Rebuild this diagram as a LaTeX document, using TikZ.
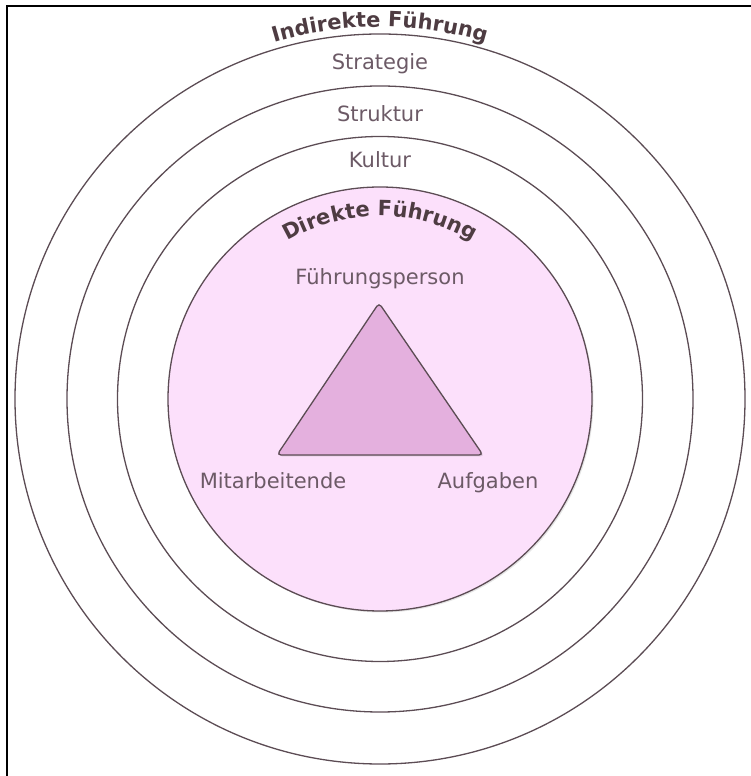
\documentclass[tikz,border=0pt]{standalone}
\usepackage{fontspec}
\setmainfont{DejaVu Sans}
\usetikzlibrary{decorations.text,shadows}
\definecolor{ringline}{RGB}{92,76,84}
\definecolor{innerfill}{RGB}{252,224,251}
\definecolor{trifill}{RGB}{228,176,222}
\definecolor{titletext}{RGB}{78,60,66}
\definecolor{labeltext}{RGB}{108,90,102}
\newcommand{\titlefont}{\bfseries\fontsize{21}{21}\selectfont}
\newcommand{\labelfont}{\fontsize{21}{21}\selectfont}

\begin{document}
\begin{tikzpicture}[x=1pt,y=1pt,
    ring/.style={draw=ringline, line width=1.3pt},
    ringlabel/.style={text=labeltext, font=\labelfont, anchor=base, inner sep=0pt}]
			\useasboundingbox (0,0) rectangle (751,776);
			% Rahmen
			\draw[line width=2pt] (7,0) -- (7,770) -- (751,770);
			\coordinate (m) at (380,377);
			
			% Indirekte Führung: Ringe
			\foreach \r in {365,313,262.5}
				\draw[ring] (m) circle[radius=\r];
			\path[decorate, decoration={text along path, text align=center,
				text={|\titlefont\color{titletext}|Indirekte Führung}}]
				([shift={(160:372)}]m) arc[start angle=160, end angle=20, radius=372];
			\node[ringlabel] (strategie) at (380,706) {Strategie};
			\node[ringlabel] (struktur) at (380,654) {Struktur};
			\node[ringlabel] (kultur) at (380,608) {Kultur};
			
			% Direkte Führung
			\draw[ring, fill=innerfill, drop shadow={shadow xshift=1.5pt, shadow yshift=-1.5pt, opacity=0.2}]
				(m) circle[radius=212];
			\path[decorate, decoration={text along path, text align=center,
				text={|\titlefont\color{titletext}|Direkte Führung}}]
				([shift={(150:183)}]m) arc[start angle=150, end angle=30, radius=183];
			
			% Dreieck
			\coordinate (spitze) at (379,473);
			\coordinate (links) at (277,321);
			\coordinate (rechts) at (483,321);
			\draw[ring, fill=trifill, rounded corners=4pt, drop shadow={shadow xshift=1.5pt, shadow yshift=-1.5pt, opacity=0.25}]
				(spitze) -- (rechts) -- (links) -- cycle;
			\node[ringlabel] (person) at (380,491) {Führungsperson};
			\node[ringlabel] (mitarbeitende) at (273,287) {Mitarbeitende};
			\node[ringlabel] (aufgaben) at (488,287) {Aufgaben};
		\end{tikzpicture}
\end{document}
